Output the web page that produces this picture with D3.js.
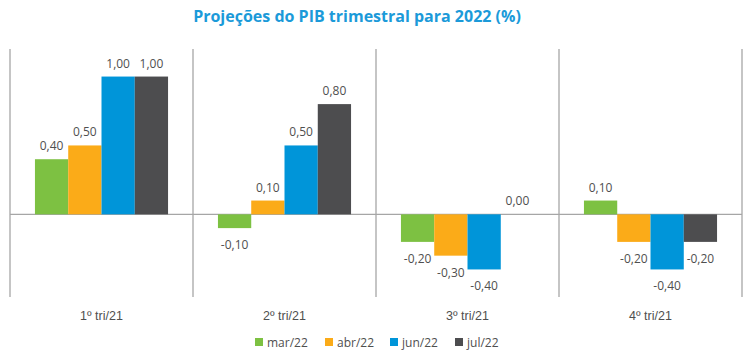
<!DOCTYPE html>
<html><head><meta charset="utf-8">
<script src="https://cdn.jsdelivr.net/npm/d3@7"></script>
<style>body{margin:0;background:#fff}svg{display:block}</style>
</head><body><svg id="c" width="750" height="355"></svg>
<script>
const categories = ["1º tri/21","2º tri/21","3º tri/21","4º tri/21"];
const seriesNames = ["mar/22","abr/22","jun/22","jul/22"];
const mar22 = [0.40,-0.10,-0.20,0.10];
const abr22 = [0.50,0.10,-0.30,-0.20];
const jun22 = [1.00,0.50,-0.40,-0.40];
const jul22 = [1.00,0.80,0.00,-0.20];
const seriesValues = [mar22,abr22,jun22,jul22];
const colors = ["#7DC142","#FBAB18","#0095D9","#4D4D4F"];

const svg = d3.select("#c");
const font = "'Open Sans', sans-serif";
const x0 = d3.scaleBand().domain(categories).range([10,742]).paddingInner(0).paddingOuter(0);
const y = d3.scaleLinear().domain([-0.6,1.2]).range([297,49]);
const inner = d3.scaleBand().domain(seriesNames).range([0,x0.bandwidth()]).paddingOuter(0.75).paddingInner(0);

svg.append("text").attr("x",357).attr("y",22).attr("text-anchor","middle")
  .attr("font-family",font).attr("font-weight","bold").attr("font-size",16)
  .attr("fill","#1B9AD9").text("Projeções do PIB trimestral para 2022 (%)");

// category separators
const seps = categories.map(c=>x0(c)).concat([x0.range()[1]]);
svg.selectAll("line.sep").data(seps).enter().append("line")
  .attr("x1",d=>d).attr("x2",d=>d).attr("y1",y(1.2)).attr("y2",y(-0.6))
  .attr("stroke","#A6A6A6").attr("stroke-width",1.3);
svg.append("line").attr("x1",10).attr("x2",742).attr("y1",y(0)).attr("y2",y(0))
  .attr("stroke","#A6A6A6").attr("stroke-width",1.3);

const data = [];
categories.forEach((c,i)=>seriesNames.forEach((s,j)=>data.push({c,s,v:seriesValues[j][i],col:colors[j]})));

svg.selectAll("rect.bar").data(data).enter().append("rect")
  .attr("x",d=>x0(d.c)+inner(d.s)).attr("width",inner.bandwidth())
  .attr("y",d=>y(Math.max(0,d.v))).attr("height",d=>Math.abs(y(d.v)-y(0)))
  .attr("fill",d=>d.col);

const fmt = v => v.toFixed(2).replace(".",",");
svg.selectAll("text.lbl").data(data).enter().append("text")
  .attr("x",d=>x0(d.c)+inner(d.s)+inner.bandwidth()/2)
  .attr("y",d=> d.v>=0 ? y(d.v)-9 : y(d.v)+21)
  .attr("text-anchor","middle").attr("font-family",font).attr("font-size",12)
  .attr("fill","#4F4F4F").text(d=>fmt(d.v));

svg.selectAll("text.cat").data(categories).enter().append("text")
  .attr("x",d=>x0(d)+x0.bandwidth()/2).attr("y",320).attr("text-anchor","middle")
  .attr("font-family","'Liberation Sans', sans-serif").attr("font-size",12.5).attr("fill","#4F4F4F").text(d=>d);

const legX = [255,325,390,455];
const lg = svg.selectAll("g.leg").data(seriesNames).enter().append("g")
  .attr("transform",(d,i)=>`translate(${legX[i]},338)`);
lg.append("rect").attr("width",8).attr("height",8).attr("fill",(d,i)=>colors[i]);
lg.append("text").attr("x",12).attr("y",8.5).attr("font-family",font).attr("font-size",12)
  .attr("fill","#4F4F4F").text(d=>d);
</script></body></html>
